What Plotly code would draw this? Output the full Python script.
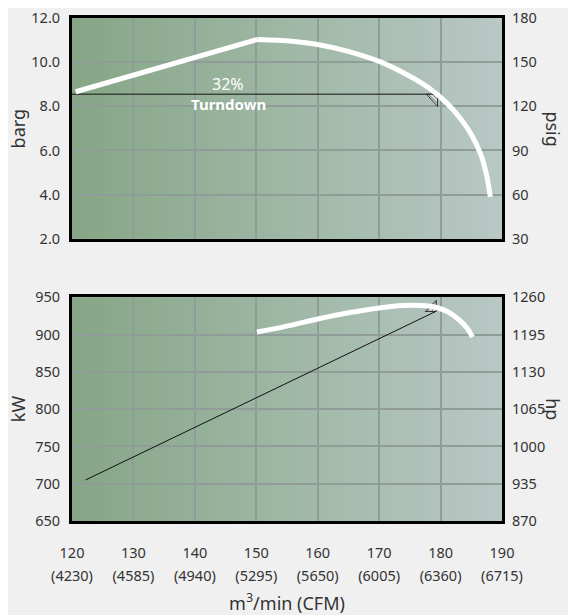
import plotly.graph_objects as go

# ---------------- data ----------------
flow_ticks = [120, 130, 140, 150, 160, 170, 180, 190]
cfm_labels = ["(4230)", "(4585)", "(4940)", "(5295)", "(5650)", "(6005)", "(6360)", "(6715)"]

# pressure curve (barg)
press_lin_x = [120.6, 150.2]
press_lin_y = [8.66, 11.03]
press_curve_x = [150.2, 155.8, 160.0, 164.8, 170.2, 174.4, 178.0, 180.9, 183.3, 185.1, 186.6, 187.5, 188.1]
press_curve_y = [11.03, 10.95, 10.80, 10.50, 10.01, 9.45, 8.85, 8.18, 7.43, 6.68, 5.78, 4.88, 3.90]

# turndown line (barg)
turn_x = [120.0, 179.5]
turn_y = [8.55, 8.55]
turn_tri_x = [177.7, 179.5, 179.5, 177.7]
turn_tri_y = [8.55, 8.55, 8.0, 8.55]

# power curve (kW)
power_x = [150.1, 154.8, 160.2, 165.0, 169.7, 173.9, 176.9, 179.3, 181.1, 182.8, 184.3, 185.2]
power_y = [903.5, 911.0, 921.2, 929.2, 935.4, 938.9, 938.9, 936.3, 930.9, 921.2, 908.8, 896.8]

# turndown power line (kW)
pline_x = [122.2, 179.2]
pline_y = [705.0, 931.0]
ptri_x = [177.5, 179.3, 179.3, 177.5]
ptri_y = [931.0, 931.0, 946.0, 931.0]

barg_range = [2, 12]
psig_range = [30, 180]
kw_range = [650, 950]
hp_range = [870, 1260]

# ---------------- style ----------------
FONT = "Noto Sans"
TXT = "#333333"
GRID = "#909c97"
LEFT_C = (134, 166, 134)
RIGHT_C = (184, 200, 197)

fig = go.Figure()

# top panel
fig.add_trace(go.Scatter(x=turn_x, y=turn_y, mode="lines", line=dict(color="#111111", width=1),
                         xaxis="x", yaxis="y", hoverinfo="skip", showlegend=False))
fig.add_trace(go.Scatter(x=turn_tri_x, y=turn_tri_y, mode="lines", fill="toself",
                         fillcolor="rgba(0,0,0,0)",
                         fillpattern=dict(shape="\\", fgcolor="#111111", bgcolor="rgba(255,255,255,0.6)", size=3, solidity=0.35),
                         line=dict(color="#111111", width=0.8),
                         xaxis="x", yaxis="y", hoverinfo="skip", showlegend=False))
fig.add_trace(go.Scatter(x=press_lin_x, y=press_lin_y, mode="lines", line=dict(color="white", width=5),
                         xaxis="x", yaxis="y", hoverinfo="skip", showlegend=False))
fig.add_trace(go.Scatter(x=press_curve_x, y=press_curve_y, mode="lines", line=dict(color="white", width=5, shape="spline"),
                         xaxis="x", yaxis="y", hoverinfo="skip", showlegend=False))
fig.add_trace(go.Scatter(x=[None], y=[None], xaxis="x", yaxis="y3", showlegend=False, hoverinfo="skip"))

# bottom panel
fig.add_trace(go.Scatter(x=pline_x, y=pline_y, mode="lines", line=dict(color="#111111", width=1),
                         xaxis="x2", yaxis="y2", hoverinfo="skip", showlegend=False))
fig.add_trace(go.Scatter(x=ptri_x, y=ptri_y, mode="lines", fill="toself",
                         fillcolor="rgba(0,0,0,0)",
                         fillpattern=dict(shape="/", fgcolor="#111111", bgcolor="rgba(255,255,255,0.6)", size=3, solidity=0.35),
                         line=dict(color="#111111", width=0.8),
                         xaxis="x2", yaxis="y2", hoverinfo="skip", showlegend=False))
fig.add_trace(go.Scatter(x=power_x, y=power_y, mode="lines", line=dict(color="white", width=5, shape="spline"),
                         xaxis="x2", yaxis="y2", hoverinfo="skip", showlegend=False))
fig.add_trace(go.Scatter(x=[None], y=[None], xaxis="x2", yaxis="y4", showlegend=False, hoverinfo="skip"))
fig.add_trace(go.Scatter(x=[None], y=[None], xaxis="x3", yaxis="y2", showlegend=False, hoverinfo="skip"))

# gradient background strips
shapes = []
N = 70
for i in range(N):
    t = (i + 0.5) / N
    c = tuple(int(round(LEFT_C[k] + (RIGHT_C[k] - LEFT_C[k]) * t)) for k in range(3))
    for xr, yr in (("x domain", "y domain"), ("x2 domain", "y2 domain")):
        shapes.append(dict(type="rect", xref=xr, yref=yr, x0=i / N, x1=(i + 1) / N + 0.002, y0=0, y1=1,
                           fillcolor="rgb(%d,%d,%d)" % c, line=dict(width=0), layer="below"))

tickfont = dict(family=FONT, size=14.5, color=TXT)
titlefont = dict(family=FONT, size=18, color=TXT)
common_x = dict(range=[120, 190], tickvals=flow_ticks, showgrid=True, gridcolor=GRID, gridwidth=1.5,
                showline=True, mirror=True, linecolor="black", linewidth=3, zeroline=False,
                ticks="", tickfont=tickfont, fixedrange=True, ticklabeloverflow="allow")
common_y = dict(showgrid=True, gridcolor=GRID, gridwidth=1.5, showline=True, mirror=True,
                linecolor="black", linewidth=3, zeroline=False, ticks="", tickfont=tickfont,
                ticklabelstandoff=6, ticklabeloverflow="allow")
right_y = dict(side="right", showgrid=False, zeroline=False, showline=False, ticks="",
               tickfont=tickfont, ticklabelstandoff=9, ticklabeloverflow="allow")

fig.update_layout(
    width=568, height=607,
    margin=dict(l=64, r=74, t=10, b=94, autoexpand=False),
    paper_bgcolor="#f0f0f0", plot_bgcolor="rgb(160,183,165)",
    font=dict(family=FONT, color=TXT),
    shapes=shapes,
    xaxis=dict(common_x, anchor="y", showticklabels=False),
    yaxis=dict(common_y, domain=[0.561, 1], range=barg_range, dtick=2, tickformat=".1f"),
    yaxis3=dict(right_y, overlaying="y", range=psig_range, tick0=30, dtick=30),
    xaxis2=dict(common_x, anchor="y2", ticklabelstandoff=17,
                title=dict(text="m<sup>3</sup>/min (CFM)", font=titlefont, standoff=40)),
    xaxis3=dict(overlaying="x2", anchor="y2", side="bottom", range=[120, 190], tickvals=flow_ticks,
                ticktext=cfm_labels, showgrid=False, zeroline=False, showline=False, ticks="",
                tickfont=tickfont, ticklabelstandoff=44, ticklabeloverflow="allow"),
    yaxis2=dict(common_y, domain=[0, 0.4447], range=kw_range, dtick=50),
    yaxis4=dict(right_y, overlaying="y2", range=hp_range, tick0=870, dtick=65),
    annotations=[
        dict(text="barg", xref="x domain", yref="y domain", x=0, y=0.5, xshift=-54, xanchor="center",
             yanchor="middle", showarrow=False, textangle=-90, font=titlefont),
        dict(text="kW", xref="x2 domain", yref="y2 domain", x=0, y=0.5, xshift=-54, xanchor="center",
             yanchor="middle", showarrow=False, textangle=-90, font=titlefont),
        dict(text="psig", xref="x domain", yref="y domain", x=1, y=0.5, xshift=51, xanchor="center",
             yanchor="middle", showarrow=False, textangle=90, font=titlefont),
        dict(text="hp", xref="x2 domain", yref="y2 domain", x=1, y=0.5, xshift=51, xanchor="center",
             yanchor="middle", showarrow=False, textangle=90, font=titlefont),
        dict(text="32%", xref="x", yref="y", x=145.4, y=9.0, showarrow=False,
             font=dict(family=FONT, size=16, color="white")),
        dict(text="<b>Turndown</b>", xref="x", yref="y", x=145.4, y=8.1, showarrow=False,
             font=dict(family=FONT, size=15, color="white")),
    ],
)

fig.write_html("out.html")
